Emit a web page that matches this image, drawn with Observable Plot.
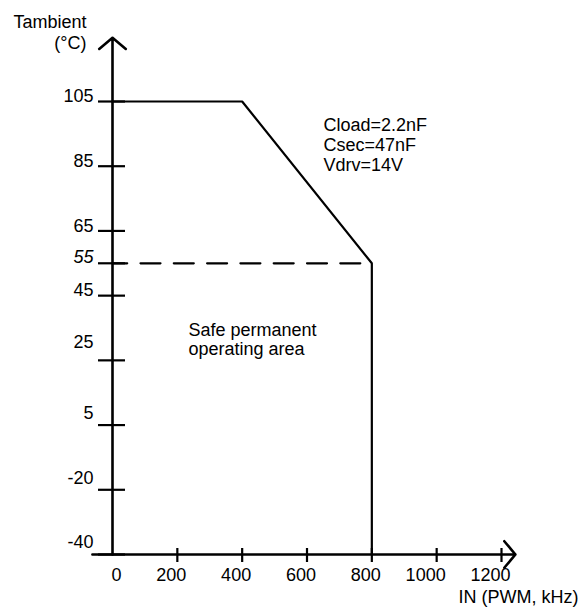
<!DOCTYPE html>
<html><head><meta charset="utf-8">
<script src="https://cdn.jsdelivr.net/npm/d3@7"></script>
<script src="https://cdn.jsdelivr.net/npm/@observablehq/plot@0.6"></script>
<style>html,body{margin:0;padding:0;background:#fff}</style>
</head><body><div id="chart"></div>
<script>
// ---- data ----
const xTicks = [200, 400, 600, 800, 1000, 1200];
const xTickLabels = [0, 200, 400, 600, 800, 1000, 1200];
const yTicks = [105, 85, 65, 55, 45, 25, 5, -20, -40];
const yLabelsUpper = [105, 85, 65, 45];
const yLabelsItalic = [55];
const yLabelsLower = [5, -20, -40];
const yLabelsLowest = [25];
const yBreaks = [-40, -20, 5, 105];   // non-uniform axis: breaks in °C
const yBreakSteps = [0, 1, 2, 7];     // tick steps at those breaks
const boundaryX = [0, 400, 800, 800];
const boundaryY = [105, 105, 55, -40];
const dashedX = [0, 800];
const dashedY = [55, 55];
const conditions = ["Cload=2.2nF", "Csec=47nF", "Vdrv=14V"];
const areaLabel = ["Safe permanent", "operating area"];
const xTitle = "IN (PWM, kHz)";
const yTitle = ["Tambient", "(°C)"];

const boundary = boundaryX.map((x, i) => ({x, y: boundaryY[i]}));
const dashed = dashedX.map((x, i) => ({x, y: dashedY[i]}));
const one = [0];
const piecewise = d3.scaleLinear().domain(yBreaks).range(yBreakSteps);

const font = '"Liberation Sans", Arial, Helvetica, sans-serif';

const chart = Plot.plot({
  width: 579,
  height: 607,
  marginLeft: 112, marginRight: 78, marginTop: 101, marginBottom: 53,
  style: {fontFamily: font, fontSize: "18px", background: "#fff", color: "#000", overflow: "visible"},
  x: {domain: [0, 1200], axis: null},
  y: {transform: piecewise, domain: [0, 7], axis: null},
  marks: [
    // axes with open arrowheads
    Plot.arrow(one, {x1: 0, y1: -40, x2: 0, y2: 124.7, stroke: "#000", strokeWidth: 2.6, headLength: 10, headAngle: 100}),
    Plot.arrow(one, {x1: -62, y1: -40, x2: 1243, y2: -40, stroke: "#000", strokeWidth: 2.6, headLength: 10, headAngle: 100}),
    // tick marks
    Plot.ruleY(yTicks, {y: d => d, x1: 0, x2: 0, insetLeft: -14, insetRight: -13, stroke: "#000", strokeWidth: 2.2}),
    Plot.ruleX(xTicks, {x: d => d, y1: -40, y2: -40, insetTop: -6, insetBottom: -8, stroke: "#000", strokeWidth: 2.2}),
    // boundary of safe area
    Plot.line(boundary, {x: "x", y: "y", stroke: "#000", strokeWidth: 2.2, strokeLinejoin: "miter"}),
    Plot.line(dashed, {x: "x", y: "y", stroke: "#000", strokeWidth: 2.2, strokeDasharray: "20,13.3", strokeDashoffset: 5.3}),
    // y tick labels
    Plot.text(yLabelsUpper, {x: 0, y: d => d, text: d => String(d), textAnchor: "end", dx: -19, dy: -5}),
    Plot.text(yLabelsItalic, {x: 0, y: d => d, text: d => String(d), textAnchor: "end", dx: -19, dy: -6, fontStyle: "italic"}),
    Plot.text(yLabelsLower, {x: 0, y: d => d, text: d => String(d), textAnchor: "end", dx: -19, dy: -12}),
    Plot.text(yLabelsLowest, {x: 0, y: d => d, text: d => String(d), textAnchor: "end", dx: -19, dy: -18}),
    // x tick labels
    Plot.text(xTickLabels, {x: d => d, y: -40, text: d => String(d), textAnchor: "end", dx: 9, dy: 21}),
    // titles
    Plot.text([yTitle[0]], {frameAnchor: "top-left", lineAnchor: "middle", text: d => d, textAnchor: "end", dx: -26, dy: -79}),
    Plot.text([yTitle[1]], {frameAnchor: "top-left", lineAnchor: "middle", text: d => d, textAnchor: "end", dx: -26, dy: -58}),
    Plot.text([xTitle], {frameAnchor: "bottom-right", lineAnchor: "middle", text: d => d, textAnchor: "end", dx: 77, dy: 43}),
    // annotations
    Plot.text([conditions.join("\n")], {frameAnchor: "top-left", lineAnchor: "middle", text: d => d, textAnchor: "start", dx: 211, dy: 43, lineHeight: 1.111}),
    Plot.text([areaLabel.join("\n")], {frameAnchor: "top-left", lineAnchor: "middle", text: d => d, textAnchor: "start", dx: 76, dy: 237.5, lineHeight: 1.06})
  ]
});
document.getElementById("chart").appendChild(chart);
</script>
</body></html>
